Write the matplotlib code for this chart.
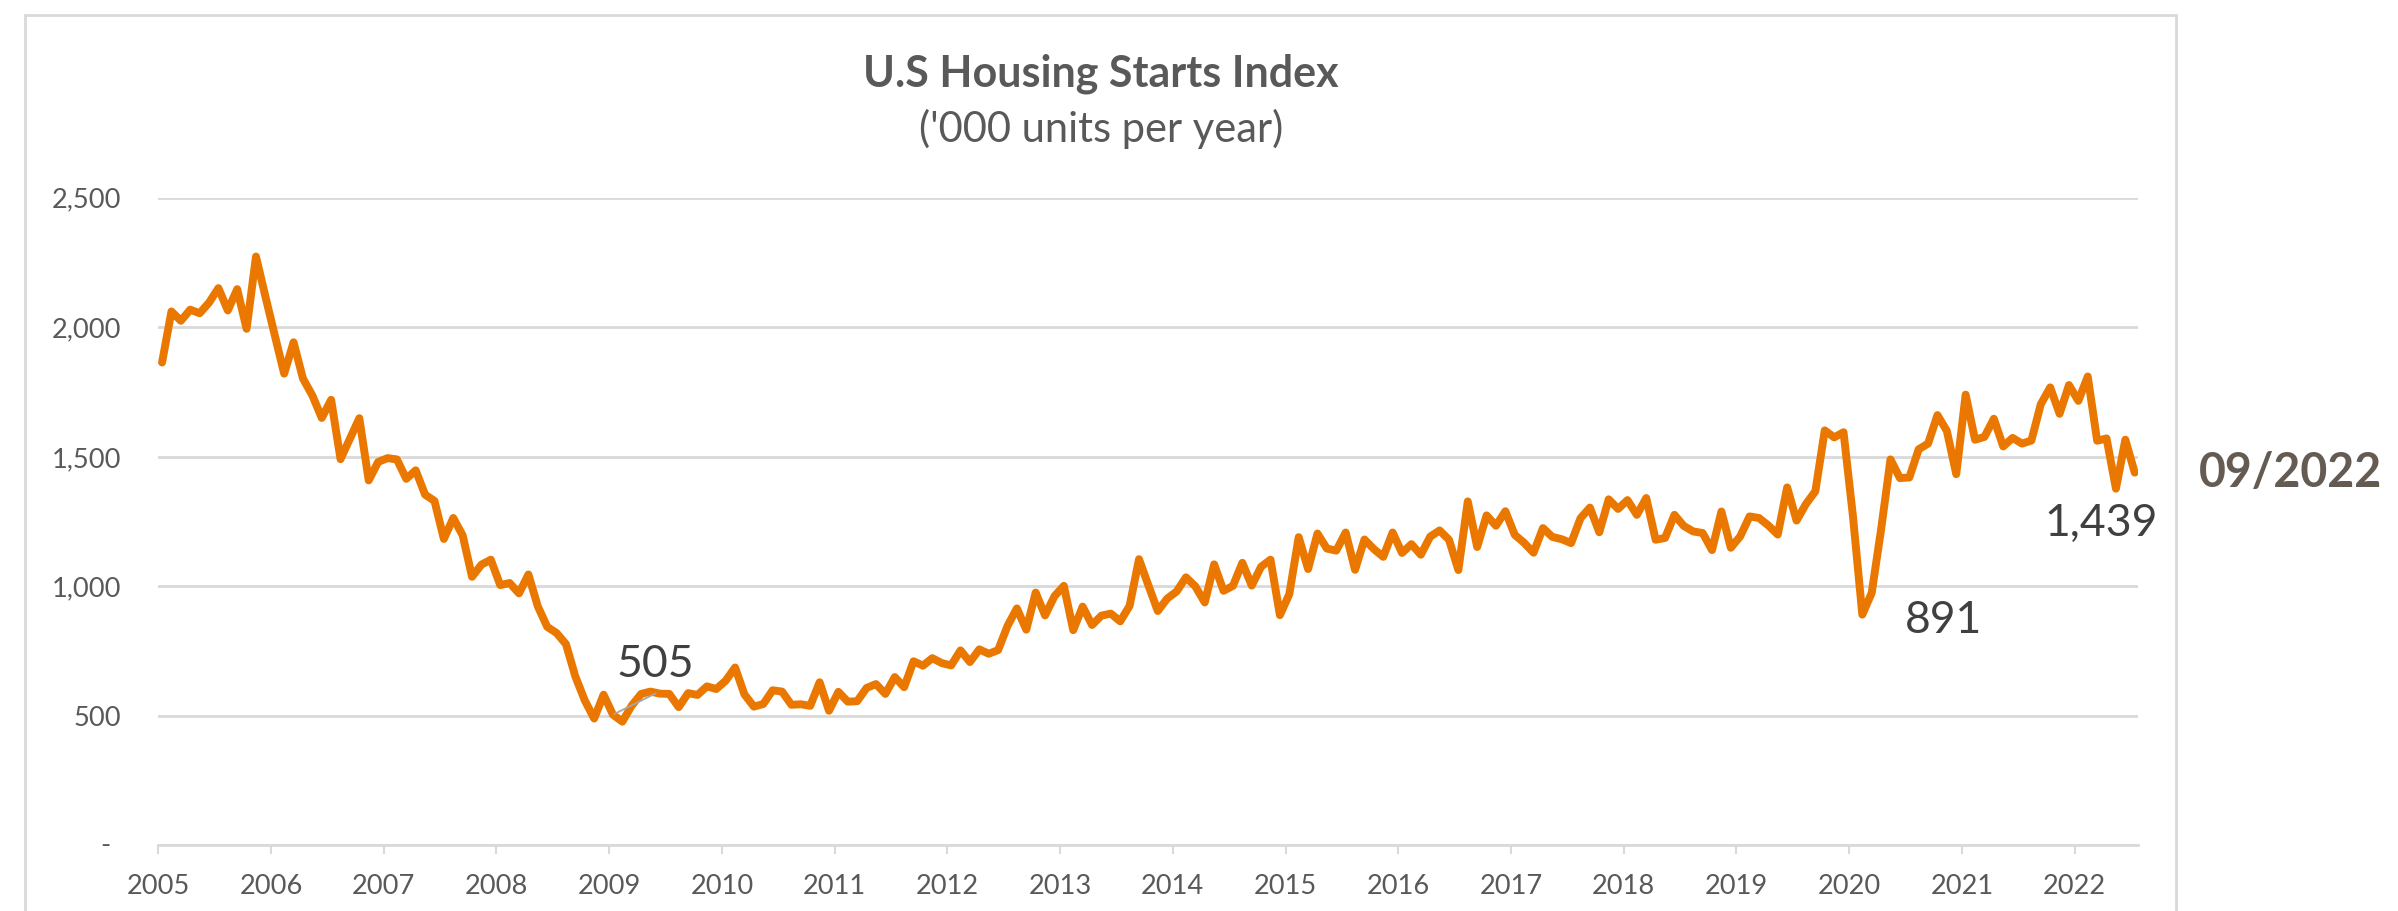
import numpy as np
import matplotlib
matplotlib.use("Agg")
import matplotlib.pyplot as plt
from matplotlib.patches import Rectangle
from matplotlib.ticker import FixedLocator, FuncFormatter

plt.rcParams['font.family'] = ['Lato', 'DejaVu Sans']

# Monthly housing starts ('000 units, SAAR), Mar 2005 .. Sep 2022
starts = [
    1864, 2061, 2025, 2068, 2054, 2095, 2151, 2065, 2147, 1994,              # 2005 (Mar-Dec)
    2273, 2119, 1969, 1821, 1942, 1802, 1737, 1650, 1720, 1491, 1570, 1649,  # 2006
    1409, 1480, 1495, 1490, 1415, 1448, 1354, 1330, 1183, 1264, 1197, 1037,  # 2007
    1084, 1103, 1005, 1013, 973, 1046, 923, 844, 820, 777, 652, 560,         # 2008
    490, 582, 505, 478, 540, 585, 594, 586, 585, 534, 588, 581,              # 2009
    614, 604, 636, 687, 583, 536, 546, 599, 594, 543, 545, 539,              # 2010
    630, 520, 593, 555, 557, 608, 623, 585, 650, 611, 711, 694,              # 2011
    723, 704, 695, 753, 708, 757, 740, 754, 847, 915, 833, 976,              # 2012
    888, 962, 1002, 831, 922, 851, 887, 895, 865, 925, 1105, 1004,           # 2013
    905, 953, 980, 1035, 1000, 938, 1085, 983, 1002, 1091, 1003, 1076,       # 2014
    1103, 889, 970, 1190, 1067, 1204, 1146, 1138, 1208, 1064, 1181, 1144,    # 2015
    1114, 1208, 1129, 1163, 1122, 1192, 1216, 1180, 1063, 1328, 1152, 1274,  # 2016
    1234, 1290, 1199, 1168, 1130, 1225, 1191, 1182, 1167, 1263, 1304, 1209,  # 2017
    1336, 1299, 1333, 1276, 1341, 1180, 1187, 1276, 1233, 1212, 1206, 1140,  # 2018
    1289, 1149, 1193, 1270, 1264, 1235, 1200, 1382, 1254, 1318, 1367, 1602,  # 2019
    1575, 1595, 1272, 891, 975, 1220, 1490, 1418, 1420, 1529, 1551, 1661,    # 2020
    1600, 1433, 1740, 1566, 1577, 1647, 1540, 1573, 1551, 1563, 1703, 1768,  # 2021
    1666, 1777, 1716, 1810, 1562, 1571, 1377, 1566, 1439,                    # 2022 (Jan-Sep)
]
year_labels = [str(y) for y in range(2005, 2023)]
y_ticks = [0, 500, 1000, 1500, 2000, 2500]

# points to call out: (index into starts, label)
callouts = [(48, "505"), (181, "891"), (210, "1,439")]

ORANGE = "#EA7800"
GRID = "#D9D9D9"
TICK_TXT = "#595959"

x = np.arange(len(starts))

fig = plt.figure(figsize=(23.98, 9.11), dpi=100)
fig.patch.set_facecolor("white")

# outer chart border (bottom runs off the picture)
fig.patches.append(Rectangle((0.0104, -0.05), 0.8971, 1.0339, transform=fig.transFigure,
                             fill=False, edgecolor=GRID, linewidth=2.0, zorder=0))

ax = fig.add_axes([0.06601, 0.07190, 0.82577, 0.71108])
ax.plot(x, starts, color=ORANGE, linewidth=5.7, solid_joinstyle="round",
        solid_capstyle="round", zorder=3)

ax.set_xlim(-0.4, len(starts) - 1 + 0.4)
ax.set_ylim(0, 2500)

ax.xaxis.set_major_locator(FixedLocator(np.arange(len(year_labels)) * 12 - 0.4))
ax.set_xticklabels(year_labels)
ax.yaxis.set_major_locator(FixedLocator(y_ticks))
ax.yaxis.set_major_formatter(FuncFormatter(lambda v, p: "" if v == 0 else f"{int(v):,}"))

ax.grid(axis="y", color=GRID, linewidth=2.0, zorder=0)
ax.set_axisbelow(True)
for s in ["top", "right", "left"]:
    ax.spines[s].set_visible(False)
ax.spines["bottom"].set_color(GRID)
ax.spines["bottom"].set_linewidth(2.0)

ax.tick_params(axis="x", length=6.5, width=1.5, color=GRID, pad=14,
               labelsize=19.6, labelcolor=TICK_TXT)
ax.tick_params(axis="y", length=0, pad=26.4, labelsize=19.6, labelcolor=TICK_TXT)

# Excel-style dash for zero
ax.annotate("-", xy=(0, 0), xycoords=("axes fraction", "data"), xytext=(-38.4, 0),
            textcoords="offset points", ha="center", va="center",
            fontsize=19.6, color=TICK_TXT)

# callout labels
offsets = {"505": (30.8, 27.0), "891": (58.8, -13.2), "1,439": (-24.1, -45.6)}
for i, lab in callouts:
    if lab == "505":
        ax.annotate(lab, xy=(x[i], starts[i]), xytext=offsets[lab], textcoords="offset points",
                    ha="center", va="baseline", fontsize=32, color="#404040",
                    arrowprops=dict(arrowstyle="-", color="#A6A6A6", lw=1.3,
                                    relpos=(0.5, -0.2), shrinkA=0, shrinkB=1))
    else:
        ax.annotate(lab, xy=(x[i], starts[i]), xytext=offsets[lab], textcoords="offset points",
                    ha="center", va="baseline", fontsize=32, color="#404040",
                    annotation_clip=False)

ax.annotate("09/2022", xy=(x[-1], starts[-1]), xytext=(112.3, -10.0), textcoords="offset points",
            ha="center", va="baseline", fontsize=33.5, fontweight="bold", color="#645B53",
            annotation_clip=False)

fig.text(0.4591, 0.9048, "U.S Housing Starts Index", ha="center", va="baseline",
         fontsize=31, fontweight="bold", color=TICK_TXT)
fig.text(0.4591, 0.8445, "('000 units per year)", ha="center", va="baseline",
         fontsize=30, color=TICK_TXT)

fig.savefig("out.png", dpi=100)
